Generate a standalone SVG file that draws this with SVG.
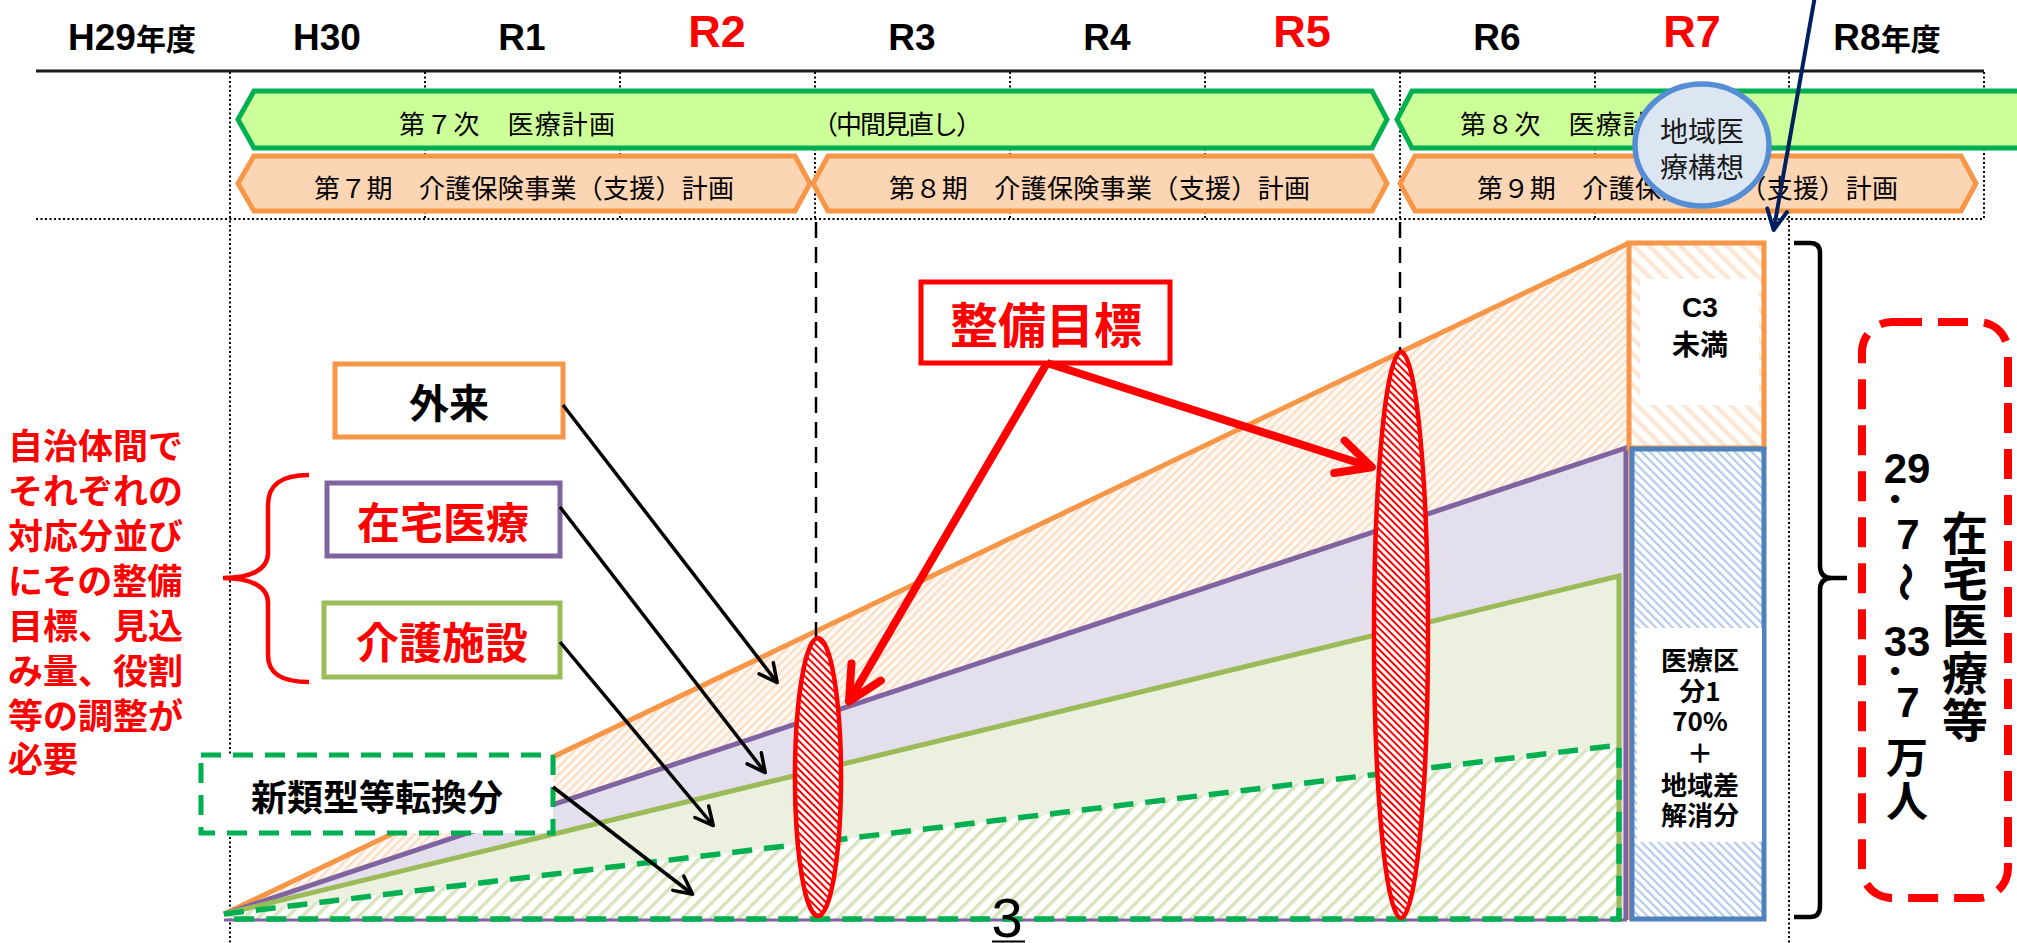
<svg xmlns="http://www.w3.org/2000/svg" width="2017" height="943" viewBox="0 0 2017 943">
<defs>
<style>
.jp{font-family:"Noto Sans CJK JP","Noto Sans CJK SC",sans-serif}
.la{font-family:"Liberation Sans","Noto Sans CJK JP",sans-serif}
.b{font-weight:700}
.c{dominant-baseline:central}
.m{text-anchor:middle}
.red{fill:#FF0000}
.blk{fill:#000}
.dot{stroke:#000;stroke-width:2;stroke-dasharray:2 2.5;fill:none}
.dash{stroke:#000;stroke-width:2.5;stroke-dasharray:16 9;fill:none}
.rg{fill:#CCFF99;stroke:#00B050;stroke-width:5}
.ro{fill:#FCD5B5;stroke:#F79646;stroke-width:5}
.rt{font-size:26px;fill:#000}
.yr{font-size:37px}
.yrr{font-size:45px}
.ak{stroke:#000;stroke-width:3.5;fill:none;marker-end:url(#mk)}
.ar{stroke:#FF0000;stroke-width:8;fill:none;marker-end:url(#mr)}
.box{fill:#FFFFFF;stroke-width:5}
</style>
<pattern id="hO" width="6" height="6" patternUnits="userSpaceOnUse" patternTransform="rotate(45)"><rect width="6" height="6" fill="#FFF9F4"/><rect width="2.2" height="6" fill="#FCDCC3"/></pattern>
<pattern id="hO2" width="11" height="11" patternUnits="userSpaceOnUse" patternTransform="rotate(-45)"><rect width="11" height="11" fill="#FFFFFF"/><rect width="4.5" height="11" fill="#FDE6D3"/></pattern>
<pattern id="hG" width="10" height="10" patternUnits="userSpaceOnUse" patternTransform="rotate(45)"><rect width="10" height="10" fill="#FFFFFF"/><rect width="3.5" height="10" fill="#D7E4BD"/></pattern>
<pattern id="hB" width="6" height="6" patternUnits="userSpaceOnUse" patternTransform="rotate(-45)"><rect width="6" height="6" fill="#FFFFFF"/><rect width="2.2" height="6" fill="#B4CBE8"/></pattern>
<pattern id="hR" width="5" height="5" patternUnits="userSpaceOnUse" patternTransform="rotate(-45)"><rect width="5" height="5" fill="#FFFFFF"/><rect width="2" height="5" fill="#FF0000"/></pattern>
<marker id="mk" viewBox="0 0 24 24" refX="19" refY="12" markerWidth="24" markerHeight="24" markerUnits="userSpaceOnUse" orient="auto" overflow="visible"><path d="M3,3 L21,12 L3,21" fill="none" stroke="#000" stroke-width="3.5" stroke-linejoin="round" stroke-linecap="round"/></marker>
<marker id="mr" viewBox="0 0 46 46" refX="36" refY="23" markerWidth="46" markerHeight="46" markerUnits="userSpaceOnUse" orient="auto" overflow="visible"><path d="M6,6 L40,23 L6,40" fill="none" stroke="#FF0000" stroke-width="8" stroke-linejoin="round" stroke-linecap="round"/></marker>
<marker id="mn" viewBox="0 0 28 28" refX="22" refY="14" markerWidth="28" markerHeight="28" markerUnits="userSpaceOnUse" orient="auto" overflow="visible"><path d="M4,4 L24,14 L4,24" fill="none" stroke="#002060" stroke-width="4" stroke-linejoin="round" stroke-linecap="round"/></marker>
</defs>
<rect width="2017" height="943" fill="#FFFFFF"/>

<g id="grid">
<line x1="36" y1="71" x2="1984" y2="71" stroke="#1A1A1A" stroke-width="3"/>
<line class="dot" x1="36" y1="219" x2="1984" y2="219"/>
<line class="dot" x1="230" y1="72" x2="230" y2="943"/>
<line class="dot" x1="1789" y1="72" x2="1789" y2="943"/>
<line class="dot" x1="425" y1="72" x2="425" y2="219"/>
<line class="dot" x1="620" y1="72" x2="620" y2="219"/>
<line class="dot" x1="815" y1="72" x2="815" y2="219"/>
<line class="dot" x1="1010" y1="72" x2="1010" y2="219"/>
<line class="dot" x1="1205" y1="72" x2="1205" y2="219"/>
<line class="dot" x1="1400" y1="72" x2="1400" y2="219"/>
<line class="dot" x1="1595" y1="72" x2="1595" y2="219"/>
<line class="dot" x1="1984" y1="72" x2="1984" y2="219"/>
</g>

<g id="years" class="la b">
<text class="yr m blk" x="132" y="50">H29<tspan font-size="30">年度</tspan></text>
<text class="yr m blk" x="327" y="50">H30</text>
<text class="yr m blk" x="522" y="50">R1</text>
<text class="yrr m red" x="717" y="47">R2</text>
<text class="yr m blk" x="912" y="50">R3</text>
<text class="yr m blk" x="1107" y="50">R4</text>
<text class="yrr m red" x="1302" y="47">R5</text>
<text class="yr m blk" x="1497" y="50">R6</text>
<text class="yrr m red" x="1692" y="47">R7</text>
<text class="yr m blk" x="1887" y="50">R8<tspan font-size="30">年度</tspan></text>
</g>

<g id="plan7">
<polygon class="rg" points="238,119.5 254,91 1372,91 1387,119.5 1372,148 254,148"/>
<text class="jp rt c" x="399" y="122" textLength="216" lengthAdjust="spacing">第７次　医療計画</text>
<text class="jp rt c" x="812" y="122" textLength="170" lengthAdjust="spacing">（中間見直し）</text>
</g>
<g id="plan8">
<polygon class="rg" points="1397,119.5 1412,91 2030,91 2030,148 1412,148"/>
<text class="jp rt c" x="1460" y="122" textLength="216" lengthAdjust="spacing">第８次　医療計画</text>
</g>
<g id="kaigo7">
<polygon class="ro" points="238,183.5 254,156 795,156 810,183.5 795,211 254,211"/>
<text class="jp rt c" x="314" y="186" textLength="420" lengthAdjust="spacing">第７期　介護保険事業（支援）計画</text>
</g>
<g id="kaigo8">
<polygon class="ro" points="813,183.5 828,156 1372,156 1387,183.5 1372,211 828,211"/>
<text class="jp rt c" x="889" y="186" textLength="421" lengthAdjust="spacing">第８期　介護保険事業（支援）計画</text>
</g>
<g id="kaigo9">
<polygon class="ro" points="1400,183.5 1415,156 1961,156 1976,183.5 1961,211 1415,211"/>
<text class="jp rt c" x="1477" y="186" textLength="421" lengthAdjust="spacing">第９期　介護保険事業（支援）計画</text>
</g>
<g id="chiiki">
<ellipse cx="1702" cy="145" rx="67" ry="61" fill="#DCE6F2" stroke="#558ED5" stroke-width="5.5"/>
<text class="jp m c" font-size="28" fill="#1A1A1A"><tspan x="1702" y="130">地域医</tspan><tspan x="1702" y="166">療構想</tspan></text>
</g>

<g id="chart">
<polygon points="224,914 1629,243 1629,919 224,919" fill="url(#hO)"/>
<polygon points="224,914 1627,448 1627,919" fill="#E4DFEC"/>
<polygon points="224,914 1619,576 1619,919" fill="#EBF1DE"/>
<polygon points="224,914 1619,745 1619,919 224,919" fill="url(#hG)"/>
<line x1="224" y1="920" x2="1627" y2="920" stroke="#8064A2" stroke-width="3"/>
<path d="M224,914 L1629,243" stroke="#F79646" stroke-width="5" fill="none"/>
<path d="M224,914 L1626,448 L1626,920" stroke="#8064A2" stroke-width="5" fill="none"/>
<path d="M224,914 L1619,576 L1619,919" stroke="#9BBB59" stroke-width="5" fill="none"/>
<path d="M224,914 L1619,745 L1619,919 L224,919" stroke="#00B050" stroke-width="5.5" stroke-dasharray="20 12" fill="none"/>
</g>

<g id="bar-c3">
<rect x="1629" y="243" width="135" height="205" fill="url(#hO2)" stroke="#F79646" stroke-width="5"/>
<rect x="1640" y="279" width="119" height="126" fill="#FFFFFF"/>
<line x1="1629.5" y1="448" x2="1629.5" y2="920" stroke="#F79646" stroke-width="2"/>
<text class="la b m c" font-size="28" x="1700" y="307">C3</text>
<text class="jp b m c" font-size="28" x="1700" y="343">未満</text>
</g>
<g id="bar-kubun">
<rect x="1632" y="449" width="132" height="470" fill="url(#hB)" stroke="#4F81BD" stroke-width="5"/>
<rect x="1637" y="628" width="125" height="214" fill="#FFFFFF"/>
<text class="jp b m c" font-size="26"><tspan x="1700" y="658">医療区</tspan><tspan x="1700" y="689">分1</tspan><tspan x="1700" y="719">70%</tspan><tspan x="1700" y="751">＋</tspan><tspan x="1700" y="783">地域差</tspan><tspan x="1700" y="813">解消分</tspan></text>
</g>

<g id="guides">
<line class="dash" x1="816" y1="222" x2="816" y2="638"/>
<line class="dash" x1="1400" y1="222" x2="1400" y2="352"/>
</g>

<g id="target-r2"><ellipse cx="818" cy="777" rx="23" ry="139" fill="url(#hR)" stroke="#FF0000" stroke-width="4.5"/></g>
<g id="target-r5"><ellipse cx="1401" cy="635" rx="27" ry="283" fill="url(#hR)" stroke="#FF0000" stroke-width="4.5"/></g>

<g id="gairai">
<rect class="box" x="335" y="364" width="228" height="73" stroke="#F79646"/>
<text class="jp b m c blk" font-size="40" x="449" y="401">外来</text>
</g>
<g id="zaitaku">
<rect class="box" x="327" y="483" width="233" height="73" stroke="#8064A2"/>
<text class="jp b m c red" font-size="43" x="443" y="520">在宅医療</text>
</g>
<g id="kaigo">
<rect class="box" x="324" y="603" width="236" height="74" stroke="#9BBB59"/>
<text class="jp b m c red" font-size="43" x="442" y="640">介護施設</text>
</g>
<g id="shinruikei">
<rect class="box" x="201" y="755" width="352" height="78" stroke="#00B050" stroke-dasharray="20 12"/>
<text class="jp b m c blk" font-size="36" x="377" y="795">新類型等転換分</text>
</g>
<g id="seibi">
<rect class="box" x="921" y="282" width="249" height="81" stroke="#FF0000"/>
<text class="jp b m c red" font-size="48" x="1046" y="322">整備目標</text>
</g>

<g id="note">
<path d="M309,475 C282,475 268,484 268,505 L268,553 C268,569 252,578 223,578 C252,578 268,587 268,603 L268,655 C268,674 282,682 309,682" fill="none" stroke="#FF0000" stroke-width="4.5"/>
<text class="jp b red c" font-size="35"><tspan x="8" y="443">自治体間で</tspan><tspan x="8" y="488">それぞれの</tspan><tspan x="8" y="533">対応分並び</tspan><tspan x="8" y="578">にその整備</tspan><tspan x="8" y="623">目標、見込</tspan><tspan x="8" y="668">み量、役割</tspan><tspan x="8" y="713">等の調整が</tspan><tspan x="8" y="756">必要</tspan></text>
</g>

<g id="total">
<path d="M1794,243 L1810,243 Q1820,243 1820,253 L1820,566 Q1820,578 1832,578 L1847,578 M1832,578 Q1820,578 1820,590 L1820,906 Q1820,917 1810,917 L1794,917" fill="none" stroke="#000" stroke-width="4.5"/>
<rect x="1862" y="322" width="146" height="576" rx="30" fill="none" stroke="#FF0000" stroke-width="8" stroke-dasharray="30 16"/>
<text class="la b m c blk" font-size="42" x="1907" y="468">29</text>
<text class="jp b blk" font-size="40" x="1884" y="503">．</text>
<text class="la b m c blk" font-size="42" x="1908" y="534">7</text>
<text class="jp b m c blk" font-size="40" x="1908" y="582" transform="rotate(90 1908 582)">～</text>
<text class="la b m c blk" font-size="42" x="1907" y="641">33</text>
<text class="jp b blk" font-size="40" x="1884" y="675">．</text>
<text class="la b m c blk" font-size="42" x="1908" y="702">7</text>
<text class="jp b m c blk" font-size="42"><tspan x="1907" y="754">万</tspan><tspan x="1907" y="798">人</tspan></text>
<text class="jp b m c blk" font-size="46"><tspan x="1965" y="530">在</tspan><tspan x="1965" y="576">宅</tspan><tspan x="1965" y="622">医</tspan><tspan x="1965" y="670">療</tspan><tspan x="1965" y="717">等</tspan></text>
</g>

<g id="connectors">
<line class="ak" x1="563" y1="405" x2="776" y2="681"/>
<line class="ak" x1="560" y1="507" x2="764" y2="771"/>
<line class="ak" x1="560" y1="642" x2="712" y2="824"/>
<line class="ak" x1="553" y1="787" x2="691" y2="893"/>
<line class="ar" x1="1047" y1="363" x2="851" y2="698"/>
<line class="ar" x1="1047" y1="363" x2="1368" y2="466"/>
<line x1="1815" y1="-4" x2="1774" y2="228" stroke="#002060" stroke-width="4" marker-end="url(#mn)"/>
</g>

<g id="page">
<text class="la m" font-size="56" x="1007" y="937" fill="#000">3</text>
<line x1="992" y1="941.5" x2="1025" y2="941.5" stroke="#000" stroke-width="2"/>
</g>
</svg>
